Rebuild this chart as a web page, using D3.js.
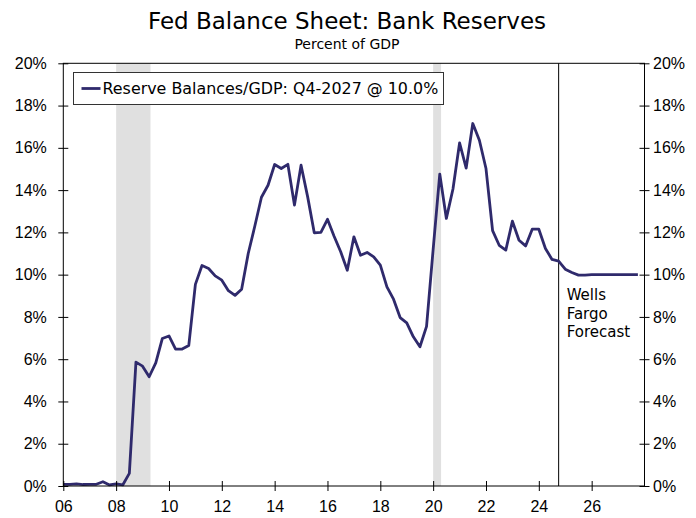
<!DOCTYPE html>
<html>
<head>
<meta charset="utf-8">
<script src="https://cdn.jsdelivr.net/npm/d3@7"></script>
<style>
  body { margin: 0; background: #fff; }
  svg { display: block; font-family: "DejaVu Sans", Verdana, sans-serif; }
</style>
</head>
<body>
<div id="chart"></div>
<script>
// quarterly data, Q1-2006 .. Q4-2027 (forecast from Q1-2025)
const startYear = 2006;
const reserves = [
  0.08, 0.08, 0.10, 0.07,   // 2006
  0.08, 0.08, 0.20, 0.05,   // 2007
  0.10, 0.05, 0.60, 5.86,   // 2008
  5.67, 5.17, 5.83, 6.98,   // 2009
  7.10, 6.48, 6.48, 6.65,   // 2010
  9.54, 10.43, 10.29, 9.94, // 2011
  9.74, 9.24, 9.02, 9.31,   // 2012
  11.00, 12.30, 13.66, 14.23, // 2013
  15.21, 15.02, 15.22, 13.29, // 2014
  15.18, 13.68, 11.98, 12.00, // 2015
  12.62, 11.82, 11.08, 10.21, // 2016
  11.79, 10.92, 11.05, 10.84, // 2017
  10.45, 9.42, 8.84, 7.97,  // 2018
  7.72, 7.06, 6.59, 7.55,   // 2019
  11.20, 14.76, 12.66, 14.05, // 2020
  16.23, 15.04, 17.15, 16.36, // 2021
  15.02, 12.08, 11.39, 11.16, // 2022
  12.53, 11.63, 11.36, 12.15, // 2023
  12.15, 11.24, 10.72, 10.64, // 2024
  10.26, 10.10, 9.98, 9.98, // 2025
  10.00, 10.00, 10.00, 10.00, // 2026
  10.00, 10.00, 10.00, 10.00  // 2027
];
const recessions = [[2008.0, 2009.3], [2020.0, 2020.3]];
const forecastStart = 2024.75;
const xTicks = [2006, 2008, 2010, 2012, 2014, 2016, 2018, 2020, 2022, 2024, 2026];
const yTicks = [0, 2, 4, 6, 8, 10, 12, 14, 16, 18, 20];
const forecastLabel = ['Wells', 'Fargo', 'Forecast'];
const legendLabel = 'Reserve Balances/GDP: Q4-2027 @ 10.0%';

const width = 696, height = 518;
const margin = {top: 63.3, right: 51.5, bottom: 32, left: 63.3};
const lineColor = '#2f2a6c';

const svg = d3.select('#chart').append('svg')
    .attr('width', width)
    .attr('height', height);

const x = d3.scaleLinear().domain([2006, 2028]).range([margin.left, width - margin.right]);
const y = d3.scaleLinear().domain([0, 20]).range([height - margin.bottom, margin.top]);

const data = reserves.map((v, i) => ({date: startYear + i / 4, value: v}));

// 标题
svg.append('text')
    .attr('x', 347).attr('y', 29)
    .attr('text-anchor', 'middle')
    .style('font-size', '23px')
    .text('Fed Balance Sheet: Bank Reserves');
svg.append('text')
    .attr('x', 347).attr('y', 49)
    .attr('text-anchor', 'middle')
    .style('font-size', '14px')
    .text('Percent of GDP');

// recession bars
svg.selectAll('.recession')
    .data(recessions)
    .join('rect')
    .attr('class', 'recession')
    .attr('x', d => x(d[0]))
    .attr('width', d => x(d[1]) - x(d[0]))
    .attr('y', y(20))
    .attr('height', y(0) - y(20))
    .attr('fill', '#e0e0e0');

// forecast divider
svg.append('line')
    .attr('x1', x(forecastStart)).attr('x2', x(forecastStart))
    .attr('y1', y(20)).attr('y2', y(0))
    .attr('stroke', '#000').attr('stroke-width', 1);

svg.selectAll('.fc-label')
    .data(forecastLabel)
    .join('text')
    .attr('class', 'fc-label')
    .attr('x', x(forecastStart) + 8)
    .attr('y', (d, i) => 300 + i * 18.7)
    .style('font-size', '15px')
    .text(d => d);

// 数据线
const line = d3.line()
    .x(d => x(d.date))
    .y(d => y(d.value));

svg.append('path')
    .datum(data)
    .attr('d', line)
    .attr('fill', 'none')
    .attr('stroke', lineColor)
    .attr('stroke-width', 2.8)
    .attr('stroke-linejoin', 'round');

// frame + axes
svg.append('rect')
    .attr('x', x(2006)).attr('y', y(20))
    .attr('width', x(2028) - x(2006))
    .attr('height', y(0) - y(20))
    .attr('fill', 'none')
    .attr('stroke', '#000')
    .attr('stroke-width', 1);

function crossTicks(g, a1, a2, dir) {
    g.select('.domain').remove();
    g.selectAll('.tick line').attr(dir + '1', a1).attr(dir + '2', a2).attr('stroke', '#000');
    g.selectAll('.tick text').style('font-size', '16px').attr('fill', '#000');
}

svg.append('g')
    .attr('transform', `translate(0,${y(0)})`)
    .call(d3.axisBottom(x).tickValues(xTicks).tickFormat(d => String(d).slice(2)).tickSize(6).tickPadding(9))
    .call(g => crossTicks(g, -5, 5, 'y'));

svg.append('g')
    .attr('transform', `translate(${x(2006)},0)`)
    .call(d3.axisLeft(y).tickValues(yTicks).tickFormat(d => d + '%').tickSize(5).tickPadding(11.5))
    .call(g => crossTicks(g, -5, 5, 'x'));

svg.append('g')
    .attr('transform', `translate(${x(2028)},0)`)
    .call(d3.axisRight(y).tickValues(yTicks).tickFormat(d => d + '%').tickSize(5).tickPadding(3.5))
    .call(g => crossTicks(g, -5, 5, 'x'));

// legend
const legend = svg.append('g').attr('transform', 'translate(73.5,72.5)');
legend.append('rect')
    .attr('width', 370).attr('height', 32)
    .attr('fill', '#fff')
    .attr('stroke', '#333').attr('stroke-width', 1);
legend.append('line')
    .attr('x1', 8).attr('x2', 27)
    .attr('y1', 16).attr('y2', 16)
    .attr('stroke', lineColor).attr('stroke-width', 2.8);
legend.append('text')
    .attr('x', 29).attr('y', 21.8)
    .style('font-size', '15.9px')
    .text(legendLabel);
</script>
</body>
</html>
